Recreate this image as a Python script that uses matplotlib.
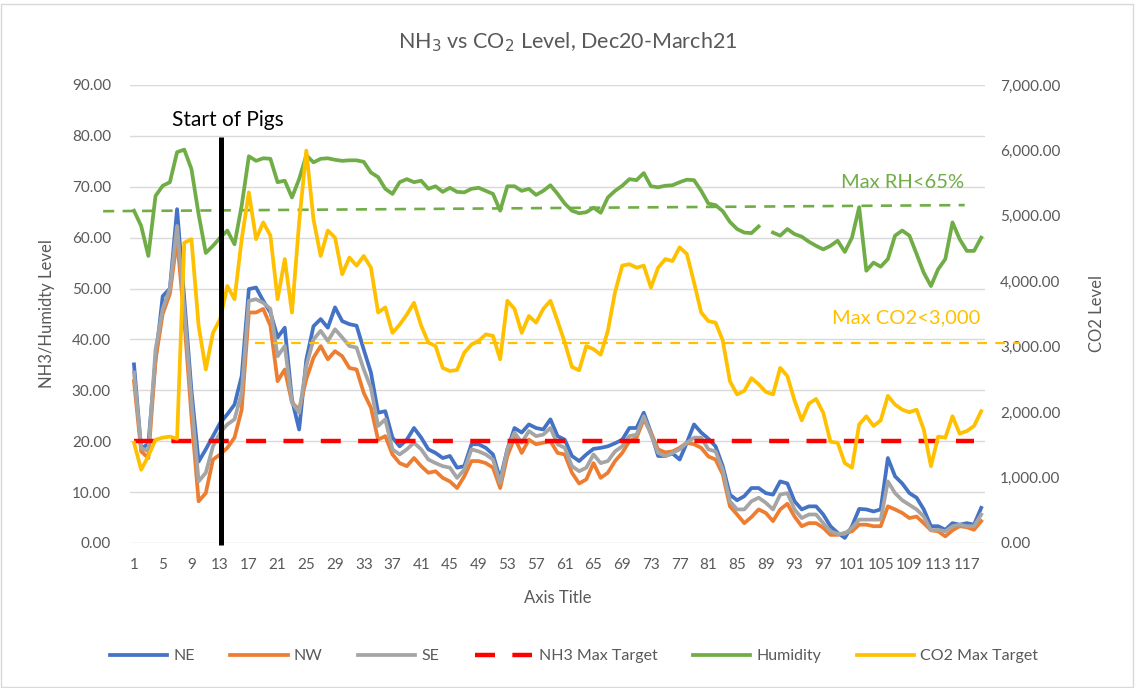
import numpy as np
import matplotlib
matplotlib.use("Agg")
import matplotlib.pyplot as plt

plt.rcParams['font.family'] = ['Lato', 'DejaVu Sans']
plt.rcParams['lines.scale_dashes'] = False

days = list(range(1, 120))

ne = [35.1, 18.5, 19.5, 36, 48.5, 50, 65.6, 48, 30, 16,
      18.4, 21, 23.6, 25.3, 27.2, 32.8, 49.9, 50.2, 47.6, 45.3,
      40.4, 42.3, 28.2, 22.3, 36, 42.6, 44, 42.3, 46.3, 43.6,
      43, 42.7, 38, 33.5, 25.6, 25.9, 20.7, 19, 20.3, 22.6,
      20.7, 18.4, 17.7, 16.7, 17.1, 14.8, 15.1, 19.4, 19.4, 18.7,
      17.4, 12.5, 18.4, 22.6, 21.7, 23.3, 22.6, 22.3, 24.3, 21,
      20.3, 17.1, 16.1, 17.4, 18.5, 18.7, 19, 19.6, 20.3, 22.6,
      22.6, 25.6, 21.7, 17.1, 17.1, 17.6, 16.4, 19.7, 23.3, 21.7,
      20.5, 19, 15.1, 9.5, 8.4, 9.2, 10.8, 10.8, 9.8, 9.5,
      12.1, 11.7, 8.2, 6.6, 7.2, 7.2, 5.6, 3.3, 2, 1,
      3.3, 6.7, 6.6, 6.2, 6.6, 16.7, 13.1, 11.7, 9.8, 8.9,
      6.6, 3.3, 3.3, 2.6, 3.9, 3.6, 3.9, 3.6, 6.9]

nw = [31.8, 18, 16.7, 36, 45, 49, 59.7, 44, 25, 8.2,
      9.8, 16.4, 17.4, 18.7, 20.7, 26.2, 45.3, 45.3, 46, 42.7,
      31.8, 34.1, 27.6, 26.2, 32.2, 36.4, 38.7, 36.1, 37.7, 36.7,
      34.4, 34.1, 29.5, 26.6, 20.3, 21, 17.4, 15.7, 15.1, 16.7,
      15.1, 13.8, 14.1, 12.8, 12.1, 10.8, 13.1, 16.1, 16.1, 15.7,
      14.8, 10.8, 17.1, 20.7, 17.7, 20.3, 19.4, 19.7, 20, 17.7,
      17.4, 13.8, 11.7, 12.5, 15.7, 12.8, 13.8, 16.1, 17.7, 20,
      20.7, 24.3, 21.7, 18.4, 17.8, 18, 18.7, 19.7, 19.4, 18.7,
      17, 16.4, 13.5, 7.2, 5.6, 3.9, 5.1, 6.6, 5.9, 4.3,
      6.6, 7.7, 5.2, 3.3, 3.9, 3.9, 3, 1.6, 1.6, 2,
      2.3, 3.6, 3.6, 3.3, 3.3, 7.2, 6.6, 5.9, 4.9, 5.2,
      3.9, 2.5, 2.3, 1.3, 2.5, 3.3, 3.1, 2.6, 4.3]

se = [33.5, 18.7, 18, 38, 46, 50, 62.3, 46, 28, 12.1,
      13.8, 19, 21.7, 23.3, 24.3, 29.5, 47.6, 47.9, 47.2, 46,
      36.7, 38.7, 27.6, 25.6, 34.8, 40, 41.7, 39.7, 42, 40.4,
      38.7, 38.4, 34.1, 30.5, 23, 24.3, 18.4, 17.4, 18.4, 19.7,
      18.4, 16.4, 15.7, 15.1, 14.8, 12.8, 14.4, 18.4, 18, 17.4,
      16.4, 11.8, 18.4, 21.7, 19.7, 22, 21, 21.3, 22.6, 19.4,
      18.7, 15.1, 14.1, 14.8, 17.4, 15.7, 16.1, 18, 19, 21,
      21.3, 24.9, 21.3, 17.7, 17.1, 17.7, 18.4, 19.7, 20.7, 20.7,
      18.4, 18, 14.4, 8.2, 6.6, 6.6, 8.2, 8.9, 7.9, 6.6,
      9.5, 9.8, 6.6, 4.9, 5.6, 5.6, 3.9, 2.3, 1.8, 1.8,
      3, 4.6, 4.6, 4.6, 4.6, 12.1, 9.8, 8.4, 7.5, 6.6,
      5.2, 2.5, 2.6, 2.3, 3.3, 3.6, 3.3, 3.3, 5.6]

nh3_target = [20] * 118

humidity = [65.3, 62.3, 56.4, 68.2, 70.2, 70.9, 76.8, 77.3, 73.5, 64.6,
            57, 58.4, 60, 61.4, 58.7, 66.3, 76, 75.1, 75.6, 75.5,
            70.9, 71.2, 67.9, 71.5, 76.2, 74.8, 75.5, 75.6, 75.3, 75.1,
            75.2, 75.2, 74.9, 72.8, 71.9, 69.6, 68.6, 70.9, 71.5, 70.9,
            71.2, 69.6, 70.1, 69, 69.8, 69, 68.9, 69.6, 69.8, 69.2,
            68.6, 65.3, 70.1, 70.1, 69.2, 69.6, 68.4, 69.2, 70.3, 68.6,
            66.7, 65.3, 64.8, 65, 65.9, 64.9, 67.9, 69.2, 70.2, 71.5,
            71.3, 72.7, 70.1, 69.9, 70.2, 70.3, 70.9, 71.4, 71.3, 69.2,
            66.7, 66.4, 65.2, 63.1, 61.7, 61, 60.9, 62.2, np.nan, 61,
            60.4, 61.7, 60.7, 60.2, 59.2, 58.4, 57.7, 58.4, 59.4, 57.2,
            60, 66, 53.5, 55.1, 54.3, 55.8, 60.4, 61.4, 60.4, 56.8,
            53.1, 50.5, 53.8, 55.8, 63, 59.7, 57.4, 57.4, 60]

co2 = [1532, 1120, 1330, 1579, 1610, 1626, 1594, 4589, 4643, 3321,
       2652, 3212, 3422, 3928, 3726, 4643, 5359, 4643, 4900, 4698,
       3726, 4340, 3523, 4900, 5997, 4947, 4387, 4776, 4667, 4107,
       4363, 4239, 4387, 4208, 3523, 3601, 3212, 3337, 3492, 3671,
       3321, 3064, 3010, 2676, 2629, 2645, 2909, 3033, 3088, 3189,
       3166, 2808, 3702, 3578, 3212, 3469, 3368, 3578, 3702, 3391,
       3064, 2690, 2640, 3010, 2963, 2878, 3243, 3834, 4239, 4262,
       4208, 4239, 3905, 4208, 4340, 4309, 4519, 4418, 3982, 3523,
       3391, 3368, 3096, 2473, 2271, 2326, 2520, 2427, 2310, 2271,
       2676, 2551, 2178, 1874, 2131, 2201, 1991, 1548, 1532, 1221,
       1151, 1812, 1937, 1789, 1874, 2248, 2116, 2038, 1999, 2038,
       1734, 1174, 1626, 1610, 1937, 1672, 1711, 1789, 2014]

xtick_vals = list(range(1, 118, 4))
left_ticks = list(range(0, 91, 10))
right_ticks = list(range(0, 7001, 1000))

txt = '#595959'
W, H = 1135, 688
fig = plt.figure(figsize=(W / 100, H / 100), dpi=100)
fig.patches.append(plt.Rectangle((1 / W, 1 / H), 1 - 3 / W, 1 - 5 / H, transform=fig.transFigure,
                                 fill=False, edgecolor='#D9D9D9', lw=1))

x0, x1 = 130.4, 984.8
ax = fig.add_axes([x0 / W, (H - 543) / H, (x1 - x0) / W, 458 / H])
ax2 = ax.twinx()
ax.set_zorder(1)
ax2.set_zorder(2)
ax.patch.set_visible(False)
ax2.patch.set_visible(False)

for yv in left_ticks:
    ax.axhline(yv, color='#D9D9D9', lw=1.0, zorder=0)

lw = 2.7
ax.plot(days, ne, color='#4472C4', lw=lw, label='NE', solid_joinstyle='round')
ax.plot(days, nw, color='#ED7D31', lw=lw, label='NW', solid_joinstyle='round')
ax.plot(days, se, color='#A5A5A5', lw=lw, label='SE', solid_joinstyle='round')
ax.plot(days[:len(nh3_target)], nh3_target, color='#FF0000', lw=3.2, dashes=(14.4, 12.5),
        label='NH3 Max Target')
ax.plot(days, humidity, color='#70AD47', lw=lw, label='Humidity', solid_joinstyle='round')
ax2.plot(days, co2, color='#FFC000', lw=lw, label='CO2 Max Target', solid_joinstyle='round')

# annotation lines (drawn shapes)
ax.plot([-3.3, 116.7], [65.2, 66.4], color='#70AD47', lw=1.9, dashes=(8, 6), clip_on=False)
ax2.plot([17.85, 124.4], [3056, 3056], color='#FFC000', lw=1.6, dashes=(7, 6), clip_on=False)
ax2.plot([13.1, 13.1], [-30, 6205], color='black', lw=3.6, clip_on=False, solid_capstyle='butt')

ax.set_xlim(0.5, 119.5)
ax.set_ylim(0, 90)
ax2.set_ylim(0, 7000)
ax.set_xticks(xtick_vals)
ax.set_xticklabels([str(v) for v in xtick_vals])
ax.set_yticks(left_ticks)
ax.set_yticklabels([f'{v:.2f}' for v in left_ticks])
ax2.set_yticks(right_ticks)
ax2.set_yticklabels([f'{v:,.2f}' for v in right_ticks])
for a in (ax, ax2):
    for s in a.spines.values():
        s.set_visible(False)
ax.tick_params(axis='both', length=0, colors=txt, labelsize=11)
ax.tick_params(axis='y', pad=14)
ax.tick_params(axis='x', pad=11)
ax2.tick_params(axis='y', length=0, colors=txt, labelsize=11, pad=11)

ax2.text(14.1, 83.1 * 7000 / 90, 'Start of Pigs', ha='center', va='center', fontsize=15, color='black')
ax.text(108.1, 70.9, 'Max RH<65%', ha='center', va='center', fontsize=14.5, color='#70AD47')
ax.text(108.5, 44.2, 'Max CO2<3,000', ha='center', va='center', fontsize=14.5, color='#FFC000')

fig.text(568 / W, 1 - 42 / H, r'NH$_3$ vs CO$_2$ Level, Dec20-March21', ha='center', va='center',
         fontsize=15.5, color=txt)
fig.text(47 / W, 1 - 314 / H, 'NH3/Humidty Level', rotation=90, ha='center', va='center',
         fontsize=12, color=txt)
fig.text(1097 / W, 1 - 314 / H, 'CO2 Level', rotation=90, ha='center', va='center',
         fontsize=12, color=txt)
fig.text(558 / W, 1 - 598 / H, 'Axis Title', ha='center', va='center', fontsize=12, color=txt)

h1, l1 = ax.get_legend_handles_labels()
h2, l2 = ax2.get_legend_handles_labels()
leg = fig.legend(h1 + h2, l1 + l2, loc='center', bbox_to_anchor=(574 / W, 1 - 656 / H), ncol=6,
                 frameon=False, fontsize=11.5, handlelength=3.6, columnspacing=2.2, handletextpad=0.4)
for t in leg.get_texts():
    t.set_color(txt)

fig.savefig('out.png', dpi=100)
